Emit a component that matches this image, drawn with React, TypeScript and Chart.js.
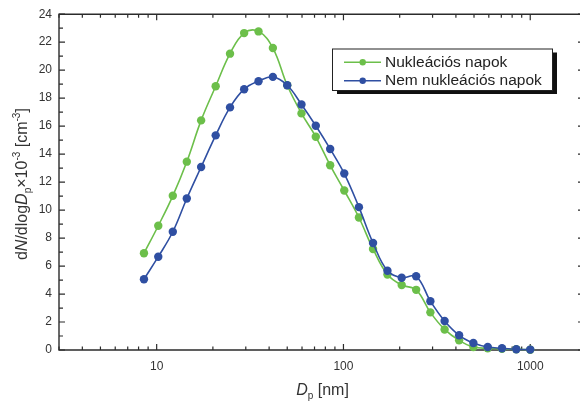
import { useEffect, useRef } from "react";
import { Chart, registerables } from "chart.js";

Chart.register(...registerables);

// Particle diameters D_p [nm] of the size bins
const diameters = [
  8.55, 10.2, 12.2, 14.5, 17.3, 20.7, 24.7, 29.4, 35.1, 41.9, 50.0, 59.6, 71.1, 84.9,
  101, 121, 144, 172, 205, 245, 292, 348, 416, 496, 592, 706, 842, 1000,
];

// dN/dlogD_p × 10^-3 [cm^-3]
const nucleationDays = [
  6.91, 8.88, 11.02, 13.46, 16.41, 18.85, 21.18, 22.65, 22.77, 21.58, 18.92, 16.91, 15.24, 13.2,
  11.4, 9.47, 7.22, 5.39, 4.64, 4.3, 2.69, 1.47, 0.69, 0.21, 0.12, 0.08, 0.05, 0.02,
];
const nonNucleationDays = [
  5.06, 6.67, 8.45, 10.83, 13.08, 15.34, 17.34, 18.64, 19.21, 19.52, 18.92, 17.55, 16.03, 14.37,
  12.61, 10.21, 7.65, 5.66, 5.16, 5.27, 3.49, 2.07, 1.05, 0.5, 0.21, 0.12, 0.05, 0.03,
];

const seriesLabels = ["Nukleációs napok", "Nem nukleációs napok"];
const seriesColors = ["#6cbf4a", "#2f4fa2"];

const xMajorTicks = [10, 100, 1000];
const xAllTicks = [
  3, 4, 5, 6, 7, 8, 9, 10, 20, 30, 40, 50, 60, 70, 80, 90, 100, 200, 300, 400, 500, 600, 700,
  800, 900, 1000,
];
const xMin = 3;
const xMax = 1940;
const yMin = 0;
const yMax = 24;
const yStep = 2;

const FONT = '"Liberation Sans", Arial, Helvetica, sans-serif';
const AXIS_COLOR = "#2b2b2b";
const TEXT_COLOR = "#333333";

type Piece = { text: string; italic?: boolean; size?: number; shift?: number };

function drawRich(ctx: CanvasRenderingContext2D, pieces: Piece[], cx: number, baseline: number, base: number) {
  const fontOf = (p: Piece) => `${p.italic ? "italic " : ""}${p.size ?? base}px ${FONT}`;
  const widths = pieces.map((p) => {
    ctx.font = fontOf(p);
    return ctx.measureText(p.text).width;
  });
  const total = widths.reduce((a, b) => a + b, 0);
  let x = cx - total / 2;
  ctx.textAlign = "left";
  ctx.textBaseline = "alphabetic";
  pieces.forEach((p, i) => {
    ctx.font = fontOf(p);
    ctx.fillText(p.text, x, baseline + (p.shift ?? 0));
    x += widths[i];
  });
}

const framePlugin = {
  id: "frame",
  beforeDatasetsDraw(chart: any) {
    const { ctx, chartArea } = chart;
    const { left, right, top, bottom } = chartArea;
    const xs = chart.scales.x;
    const ys = chart.scales.y;
    ctx.save();
    ctx.strokeStyle = AXIS_COLOR;
    ctx.lineWidth = 1.4;
    ctx.beginPath();
    ctx.rect(left, top, right - left, bottom - top);
    ctx.stroke();

    ctx.lineWidth = 1.2;
    ctx.beginPath();
    for (const t of xs.ticks) {
      const px = xs.getPixelForValue(t.value);
      const len = xMajorTicks.includes(t.value) ? 6 : 3.5;
      ctx.moveTo(px, bottom);
      ctx.lineTo(px, bottom - len);
      ctx.moveTo(px, top);
      ctx.lineTo(px, top + len);
    }
    const yt = ys.ticks.map((t: any) => t.value);
    for (let i = 0; i < yt.length; i++) {
      const py = ys.getPixelForValue(yt[i]);
      ctx.moveTo(left, py);
      ctx.lineTo(left + 6, py);
      ctx.moveTo(right, py);
      ctx.lineTo(right - 6, py);
      if (i < yt.length - 1) {
        const pm = ys.getPixelForValue((yt[i] + yt[i + 1]) / 2);
        ctx.moveTo(left, pm);
        ctx.lineTo(left + 4, pm);
        ctx.moveTo(right, pm);
        ctx.lineTo(right - 4, pm);
      }
    }
    ctx.stroke();
    ctx.restore();
  },
  afterDraw(chart: any) {
    const { ctx, chartArea } = chart;
    ctx.save();
    ctx.fillStyle = TEXT_COLOR;

    // x-axis title: D_p [nm]
    drawRich(
      ctx,
      [
        { text: "D", italic: true },
        { text: "p", size: 10, shift: 4 },
        { text: " [nm]" },
      ],
      (chartArea.left + chartArea.right) / 2 + 1,
      395,
      16
    );

    // y-axis title: dN/dlogD_p×10^-3 [cm^-3]
    ctx.save();
    ctx.translate(27, (chartArea.top + chartArea.bottom) / 2 + 2);
    ctx.rotate(-Math.PI / 2);
    drawRich(
      ctx,
      [
        { text: "d" },
        { text: "N", italic: true },
        { text: "/dlog" },
        { text: "D", italic: true },
        { text: "p", size: 10, shift: 4 },
        { text: "×10" },
        { text: "-3", size: 10, shift: -7 },
        { text: " [cm" },
        { text: "-3", size: 10, shift: -7 },
        { text: "]" },
      ],
      0,
      0,
      16
    );
    ctx.restore();

    // legend box with drop shadow
    const bx = 332;
    const by = 48.5;
    const bw = 220;
    const bh = 41.5;
    ctx.fillStyle = "#111";
    ctx.fillRect(bx + 5, by + 4, bw, bh);
    ctx.fillStyle = "#fff";
    ctx.fillRect(bx, by, bw, bh);
    ctx.strokeStyle = "#222";
    ctx.lineWidth = 1;
    ctx.strokeRect(bx + 0.5, by + 0.5, bw, bh);

    const rows = [62.3, 80.7];
    chart.data.datasets.forEach((ds: any, i: number) => {
      const ry = rows[i];
      ctx.strokeStyle = ds.borderColor;
      ctx.lineWidth = 1.5;
      ctx.beginPath();
      ctx.moveTo(344, ry);
      ctx.lineTo(381, ry);
      ctx.stroke();
      ctx.fillStyle = ds.backgroundColor;
      ctx.beginPath();
      ctx.arc(362.7, ry, 3.2, 0, Math.PI * 2);
      ctx.fill();
      ctx.fillStyle = "#222";
      ctx.font = `15.5px ${FONT}`;
      ctx.textAlign = "left";
      ctx.textBaseline = "middle";
      ctx.fillText(ds.label, 385, ry + 0.5);
    });
    ctx.restore();
  },
};

export default function App() {
  const canvasRef = useRef<HTMLCanvasElement | null>(null);

  useEffect(() => {
    const canvas = canvasRef.current;
    if (!canvas) return;
    const series = [nucleationDays, nonNucleationDays];
    const chart = new Chart(canvas, {
      type: "line",
      data: {
        datasets: series.map((values, i) => ({
          label: seriesLabels[i],
          data: diameters.map((d, j) => ({ x: d, y: values[j] })),
          borderColor: seriesColors[i],
          backgroundColor: seriesColors[i],
          borderWidth: 1.6,
          pointRadius: 4.2,
          pointBorderWidth: 0,
          pointHoverRadius: 4.2,
          tension: 0.4,
          clip: false as any,
          order: i === 0 ? 2 : 1,
        })),
      },
      options: {
        responsive: false,
        animation: false,
        events: [],
        layout: { padding: { top: 13, right: 8, left: 0, bottom: 0 } },
        plugins: {
          legend: { display: false },
          tooltip: { enabled: false },
        },
        scales: {
          x: {
            type: "logarithmic",
            min: xMin,
            max: xMax,
            grid: { display: false, drawTicks: false },
            border: { display: false },
            afterBuildTicks: (scale: any) => {
              scale.ticks = xAllTicks.map((value) => ({ value, major: xMajorTicks.includes(value) }));
            },
            afterFit: (scale: any) => {
              scale.height = 51;
            },
            ticks: {
              autoSkip: false,
              maxRotation: 0,
              padding: 9,
              color: TEXT_COLOR,
              font: { family: FONT, size: 12 },
              callback: (value: any) => (xMajorTicks.includes(Number(value)) ? String(value) : ""),
            },
          },
          y: {
            type: "linear",
            min: yMin,
            max: yMax,
            grid: { display: false, drawTicks: false },
            border: { display: false },
            afterFit: (scale: any) => {
              scale.width = 59;
            },
            ticks: {
              stepSize: yStep,
              padding: 7,
              color: TEXT_COLOR,
              font: { family: FONT, size: 12 },
            },
          },
        },
      },
      plugins: [framePlugin],
    });
    return () => chart.destroy();
  }, []);

  return (
    <div
      style={{
        position: "fixed",
        left: 0,
        top: 0,
        width: 580,
        height: 401,
        overflow: "hidden",
        background: "#fff",
      }}
    >
      <canvas ref={canvasRef} width={592} height={401} style={{ display: "block" }} />
    </div>
  );
}
